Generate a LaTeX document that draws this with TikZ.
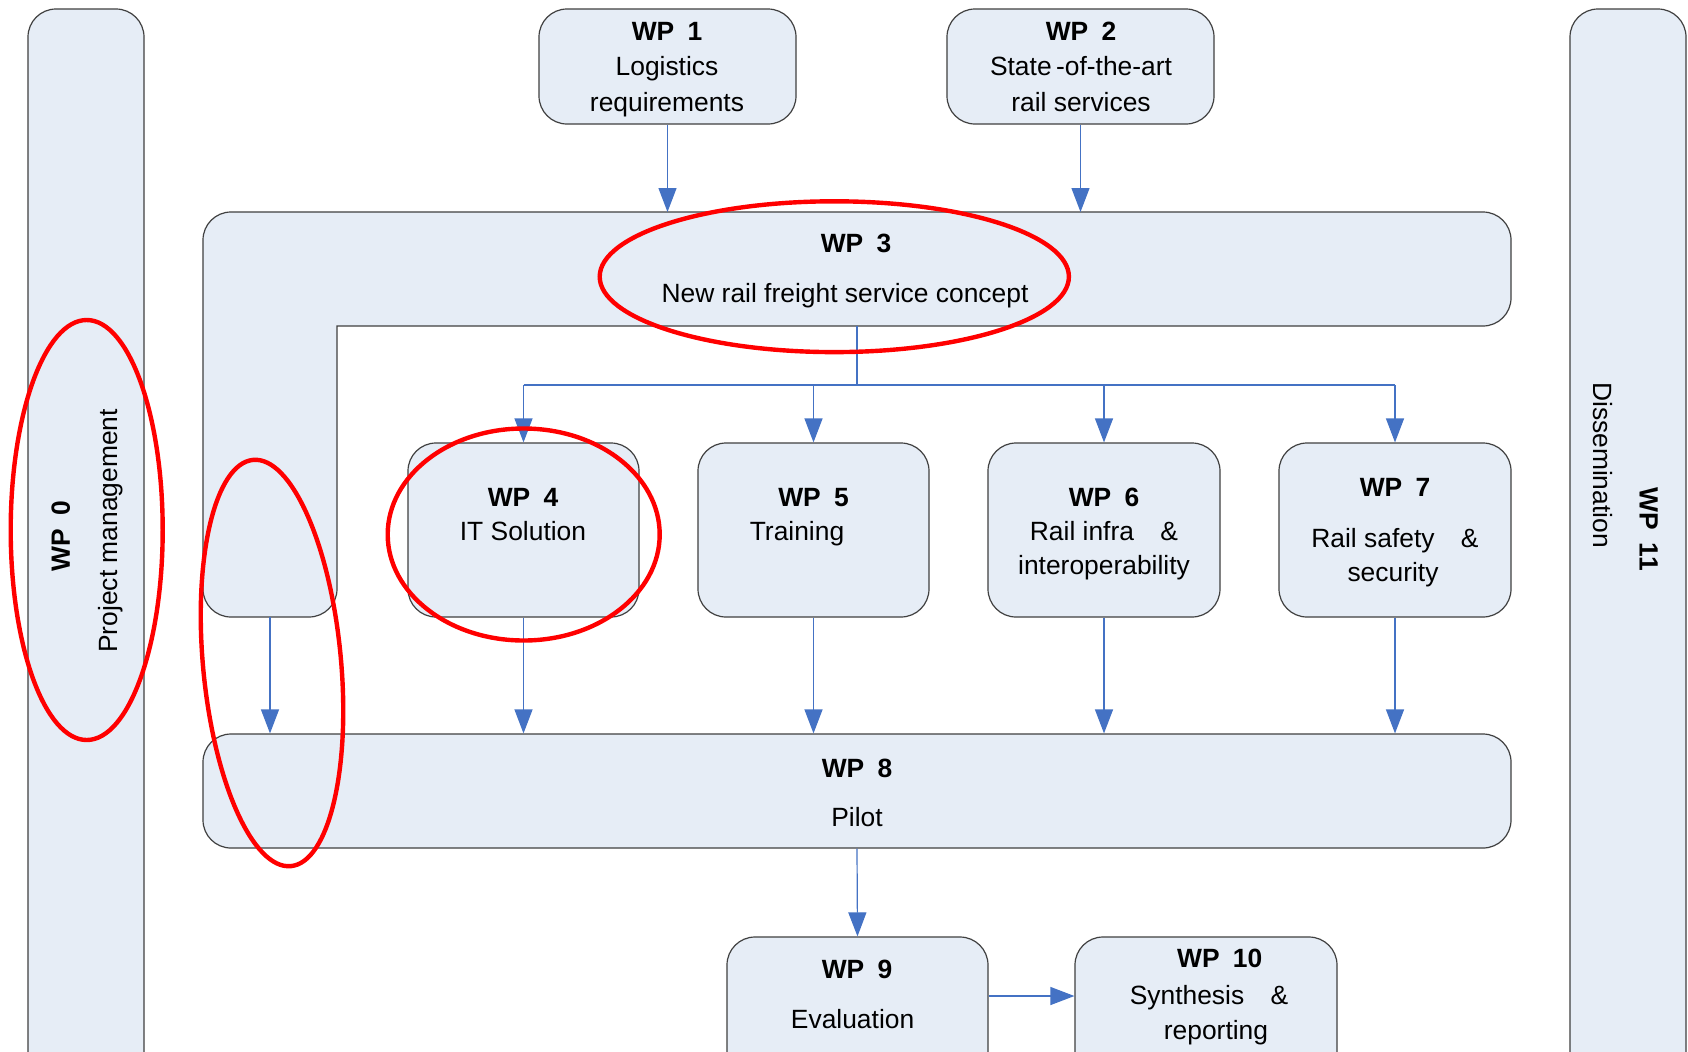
\documentclass[tikz,border=0pt]{standalone}
\usepackage{fontspec}
\setmainfont{Liberation Sans}
\usetikzlibrary{arrows.meta,fit}
\definecolor{boxfill}{HTML}{E6EDF6}
\definecolor{boxedge}{HTML}{404040}
\definecolor{flowblue}{HTML}{4472C4}
\definecolor{ringred}{HTML}{FF0000}
\newcommand{\wpgap}{\hspace{0.5em}}
\newcommand{\ampgap}{\hspace{1em}}
\begin{document}
\begin{tikzpicture}[x=0.5pt,y=-0.5pt,
  wpbox/.style={draw=boxedge, line width=0.6pt, fill=boxfill, rounded corners=14pt, inner sep=0pt},
  flow/.style={draw=flowblue, line width=0.6pt},
  arr/.style={flow, -{Triangle[length=12pt,width=9pt]}},
  txt/.style={font=\fontsize{13.2}{16}\selectfont, inner sep=0pt, anchor=base},
  wptitle/.style={txt, font=\fontsize{13.2}{16}\selectfont\bfseries},
  ring/.style={draw=ringred, line width=2.2pt}]
\useasboundingbox (0,0) rectangle (1688,1051);
\fill[white] (0,0) rectangle (1688,1051);
\clip (0,0) rectangle (1688,1051);

% side bars
\node[wpbox, fit={(28,9) (144,1090)}] (wp0) {};
\node[wpbox, fit={(1570,9) (1686,1090)}] (wp11) {};

% top boxes
\node[wpbox, fit={(539,9) (796,124)}] (wp1) {};
\node[wpbox, fit={(947,9) (1214,124)}] (wp2) {};

% WP3 L-shape
\draw[draw=boxedge, line width=0.6pt, fill=boxfill, rounded corners=14pt]
  (203,400) -- (203,212) -- (1511,212) -- (1511,326) -- (1200,326)
  [sharp corners] -- (337,326) -- (337,500)
  [rounded corners=14pt] -- (337,617) -- (203,617) -- cycle;
\coordinate (wp3top) at (857,212);
\coordinate (wp3bot) at (857,326);
\coordinate (wp3col) at (270,617);
\coordinate (hub) at (857,385);

% middle boxes
\node[wpbox, fit={(408,443) (639,617)}] (wp4) {};
\node[wpbox, fit={(698,443) (929,617)}] (wp5) {};
\node[wpbox, fit={(988,443) (1220,617)}] (wp6) {};
\node[wpbox, fit={(1279,443) (1511,617)}] (wp7) {};

% pilot
\node[wpbox, fit={(203,734) (1511,848)}] (wp8) {};

% bottom boxes
\node[wpbox, fit={(727,937) (988,1090)}] (wp9) {};
\node[wpbox, fit={(1075,937) (1337,1090)}] (wp10) {};
\coordinate (row910) at (0,996);

% connectors
\draw[arr] (wp1.south) -- (wp1.south |- wp3top);
\draw[arr] (wp2.south) -- (wp2.south |- wp3top);
\draw[flow] (wp3bot) -- (hub);
\draw[flow] (wp4.north |- hub) -- (wp7.north |- hub);
\foreach \n in {wp4,wp5,wp6,wp7}{
  \draw[arr] (\n.north |- hub) -- (\n.north);
  \draw[arr] (\n.south) -- (\n.south |- wp8.north);
}
\draw[arr] (wp3col) -- (wp3col |- wp8.north);
\draw[arr] (wp8.south) -- (wp9.north);
\draw[arr] (wp9.east |- row910) -- (wp10.west |- row910);

% texts
\node[wptitle] (t1a) at (667,40) {WP\wpgap 1};
\node[txt] (t1b) at (667,75.5) {Logistics};
\node[txt] (t1c) at (667,111) {requirements};

\node[wptitle] (t2a) at (1081,40) {WP\wpgap 2};
\node[txt] (t2b) at (1081,75.5) {State\,-of-the-art};
\node[txt] (t2c) at (1081,111) {rail services};

\node[wptitle] (t3a) at (856,252.5) {WP\wpgap 3};
\node[txt] (t3b) at (845,302) {New rail freight service concept};

\node[wptitle] (t4a) at (523,506.5) {WP\wpgap 4};
\node[txt] (t4b) at (523,540) {IT Solution};

\node[wptitle] (t5a) at (813.5,506.5) {WP\wpgap 5};
\node[txt] (t5b) at (797,540) {Training};

\node[wptitle] (t6a) at (1104,506.5) {WP\wpgap 6};
\node[txt] (t6b) at (1104,540) {Rail infra\ampgap\&};
\node[txt] (t6c) at (1104,574.5) {interoperability};

\node[wptitle] (t7a) at (1395,496) {WP\wpgap 7};
\node[txt] (t7b) at (1395,547.5) {Rail safety\ampgap\&};
\node[txt] (t7c) at (1393,581) {security};

\node[wptitle] (t8a) at (857,777) {WP\wpgap 8};
\node[txt] (t8b) at (857,826.5) {Pilot};

\node[wptitle] (t9a) at (857,978.5) {WP\wpgap 9};
\node[txt] (t9b) at (852.6,1028) {Evaluation};

\node[wptitle] (t10a) at (1219.7,967.5) {WP\wpgap 10};
\node[txt] (t10b) at (1209,1004) {Synthesis\ampgap\&};
\node[txt] (t10c) at (1216,1039.5) {reporting};

\node[wptitle, rotate=90] (t0a) at (69.8,536) {WP\wpgap 0};
\node[txt, rotate=90] (t0b) at (117,531) {Project management};

\node[txt, rotate=-90] (t11b) at (1593.5,465) {Dissemination};
\node[wptitle, rotate=-90] (t11a) at (1639.5,529) {WP\wpgap 11};

% red rings
\draw[ring] (86.7,530) ellipse [x radius=38pt, y radius=105pt];
\draw[ring, rotate around={5.3:(272,663)}] (272,663) ellipse [x radius=34.5pt, y radius=102pt];
\draw[ring] (523.7,534.5) ellipse [x radius=68pt, y radius=53pt];
\draw[ring] (834.3,276.7) ellipse [x radius=117.3pt, y radius=37.7pt];
\end{tikzpicture}
\end{document}
